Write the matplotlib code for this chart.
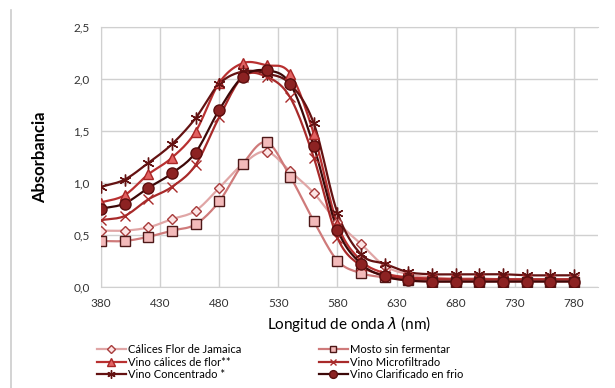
import numpy as np
import matplotlib
matplotlib.use('Agg')
import matplotlib.pyplot as plt
from matplotlib.lines import Line2D

plt.rcParams['font.family'] = ['Lato', 'DejaVu Sans']

# wavelengths (nm)
wl = [380, 400, 420, 440, 460, 480, 500, 520, 540, 560, 580,
      600, 620, 640, 660, 680, 700, 720, 740, 760, 780]

calices = [0.54, 0.54, 0.57, 0.65, 0.73, 0.95, 1.18, 1.30, 1.11, 0.90, 0.62,
           0.41, 0.20, 0.12, 0.09, 0.08, 0.08, 0.07, 0.07, 0.07, 0.07]
mosto = [0.44, 0.44, 0.48, 0.54, 0.60, 0.82, 1.18, 1.39, 1.06, 0.63, 0.25,
         0.13, 0.09, 0.06, 0.05, 0.05, 0.05, 0.05, 0.05, 0.05, 0.05]
vino_calices = [0.81, 0.88, 1.08, 1.24, 1.49, 1.96, 2.15, 2.13, 2.05, 1.47, 0.60,
                0.25, 0.13, 0.09, 0.08, 0.07, 0.07, 0.07, 0.07, 0.07, 0.07]
microfiltrado = [0.64, 0.68, 0.84, 0.96, 1.17, 1.63, 2.02, 2.02, 1.82, 1.24, 0.47,
                 0.20, 0.11, 0.08, 0.07, 0.07, 0.07, 0.07, 0.07, 0.07, 0.07]
concentrado = [0.96, 1.03, 1.19, 1.37, 1.62, 1.95, 2.07, 2.05, 1.95, 1.57, 0.71,
               0.31, 0.22, 0.14, 0.12, 0.12, 0.12, 0.12, 0.11, 0.11, 0.11]
clarificado = [0.75, 0.80, 0.95, 1.09, 1.29, 1.70, 2.02, 2.08, 1.95, 1.35, 0.55,
               0.22, 0.10, 0.06, 0.05, 0.05, 0.05, 0.05, 0.05, 0.05, 0.05]

# (label, values, marker, ms, line colour, face, edge)
series = [
    ('Cálices Flor de Jamaica', calices, 'D', 5.5, '#e0a6a6', '#fce4e4', '#a83c3c'),
    ('Vino cálices de flor**', vino_calices, '^', 7.5, '#b83030', '#e26262', '#a82626'),
    ('Vino Concentrado *', concentrado, (6, 2, 0), 8.5, '#641212', '#641212', '#641212'),
    ('Mosto sin fermentar', mosto, 's', 7, '#cf7a7a', '#f3baba', '#4d1818'),
    ('Vino Microfiltrado', microfiltrado, 'x', 7, '#a82a2a', '#a82a2a', '#a82a2a'),
    ('Vino Clarificado en frio', clarificado, 'o', 8, '#3c0808', '#8c2222', '#5a0e0e'),
]


def smooth(x, y, n=12):
    # catmull-rom curve through the points, like Excel's smoothed line
    x = np.asarray(x, float)
    y = np.asarray(y, float)
    px = np.concatenate([[2 * x[0] - x[1]], x, [2 * x[-1] - x[-2]]])
    py = np.concatenate([[2 * y[0] - y[1]], y, [2 * y[-1] - y[-2]]])
    t = np.linspace(0, 1, n, endpoint=False)
    xs, ys = [], []
    for i in range(1, len(px) - 2):
        for p, out in ((px, xs), (py, ys)):
            p0, p1, p2, p3 = p[i - 1], p[i], p[i + 1], p[i + 2]
            out.extend(0.5 * (2 * p1 + (-p0 + p2) * t
                              + (2 * p0 - 5 * p1 + 4 * p2 - p3) * t ** 2
                              + (-p0 + 3 * p1 - 3 * p2 + p3) * t ** 3))
    xs.append(x[-1])
    ys.append(y[-1])
    return xs, ys


fig = plt.figure(figsize=(6.15, 3.88), dpi=100)
ax = fig.add_axes([0.164, 0.261, 0.808, 0.670])

handles = []
order = [3, 0, 1, 4, 2, 5]  # draw light ones first
for i in order:
    label, vals, mk, ms, lc, fc, ec = series[i]
    sx, sy = smooth(wl, vals)
    ax.plot(sx, sy, color=lc, lw=1.6, zorder=2 + i * 0.1)
    ax.plot(wl, vals, ls='none', marker=mk, ms=ms, mfc=fc, mec=ec,
            mew=1.0, zorder=3 + i * 0.1)

for label, vals, mk, ms, lc, fc, ec in series:
    handles.append(Line2D([], [], color=lc, lw=1.6, marker=mk, ms=ms * 0.7,
                          mfc=fc, mec=ec, label=label))

ax.set_xlim(380, 800)
ax.set_ylim(0, 2.5)
ax.set_xticks([380, 430, 480, 530, 580, 630, 680, 730, 780])
ax.set_yticks([0, 0.5, 1.0, 1.5, 2.0, 2.5])
ax.set_yticklabels(['0,0', '0,5', '1,0', '1,5', '2,0', '2,5'])
ax.grid(True, color='#d0d0d0', lw=1.0)
ax.set_axisbelow(True)
ax.tick_params(length=0, labelsize=8.5, colors='#333333', pad=8)
for s in ['left', 'bottom', 'top']:
    ax.spines[s].set_color('#d0d0d0')
ax.spines['right'].set_visible(False)

ax.set_ylabel('Absorbancia', fontsize=12, fontweight='bold', labelpad=18)
ax.set_xlabel('Longitud de onda $\\lambda$ (nm)', fontsize=11, labelpad=4)

fig.legend(handles=handles, ncol=2, loc='upper left',
           bbox_to_anchor=(0.15, 0.125), frameon=False, fontsize=8,
           handlelength=2.6, handletextpad=0.2, columnspacing=7.0,
           labelspacing=0.15, borderaxespad=0)

fig.add_artist(Line2D([0.018, 0.018], [0, 0.975], color='#cccccc', lw=1.2))

fig.savefig('out.png', dpi=100)
